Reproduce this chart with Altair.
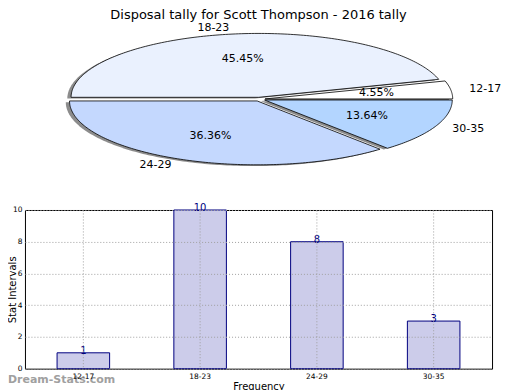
import numpy as np
import pandas as pd
import altair as alt

# ---- data ----
categories = ["12-17", "18-23", "24-29", "30-35"]
counts = [1, 10, 8, 3]
slice_colors = ["#ffffff", "#eaf1fe", "#c4d8fe", "#b3d5ff"]
title_text = "Disposal tally for Scott Thompson - 2016 tally"

# ---- layout constants (pixels) ----
PLOT_W, PLOT_H = 468, 159
PLOT_LEFT, PLOT_TOP = 25, 210          # page coordinates of bar plot area
PIE_CX, PIE_CY = 260, 99               # page coordinates of pie centre
PIE_RX, PIE_RY = 188, 64               # pixels per unit radius
EXPLODE = 0.03
SHADOW = 0.02

# pie scales (unit-circle data -> elliptical pixels)
xa = -(PIE_CX - PLOT_LEFT) / PIE_RX
xb = xa + PLOT_W / PIE_RX
yd = -(PLOT_TOP - PIE_CY) / PIE_RY
yc = yd - PLOT_H / PIE_RY
pie_x = alt.Scale(domain=[xa, xb], nice=False, zero=False)
pie_y = alt.Scale(domain=[yc, yd], nice=False, zero=False)

# ---- pie geometry from counts ----
total = sum(counts)
rows, lab_rows = [], []
t0 = 0.0
for cat, v in zip(categories, counts):
    t1 = t0 + 360.0 * v / total
    mid = np.deg2rad((t0 + t1) / 2)
    ox, oy = EXPLODE * np.cos(mid), EXPLODE * np.sin(mid)
    angs = np.deg2rad(np.linspace(t0, t1, int(abs(t1 - t0)) + 2))
    pts = [(ox, oy)] + [(ox + np.cos(a), oy + np.sin(a)) for a in angs] + [(ox, oy)]
    for k, (px, py) in enumerate(pts):
        rows.append({"slice": cat, "k": k, "x": px, "y": py})
    lx, ly = (1.1 + EXPLODE) * np.cos(mid), (1.1 + EXPLODE) * np.sin(mid)
    qx, qy = (0.6 + EXPLODE) * np.cos(mid), (0.6 + EXPLODE) * np.sin(mid)
    lab_rows.append({"slice": cat, "lx": lx, "ly": ly, "qx": qx, "qy": qy,
                     "side": "left" if lx >= 0 else "right",
                     "pct": f"{100.0 * v / total:.2f}%"})
    t0 = t1
pie_df = pd.DataFrame(rows)
pie_df["sx"] = pie_df["x"] - SHADOW
pie_df["sy"] = pie_df["y"] - SHADOW
lab_df = pd.DataFrame(lab_rows)
bar_df = pd.DataFrame({"category": categories, "count": counts})

FONT = "DejaVu Sans"

shadow = alt.Chart(pie_df).mark_line(
    filled=True, color="#1a1a1a", opacity=0.5, strokeWidth=0
).encode(
    x=alt.X("sx:Q", scale=pie_x, axis=None),
    y=alt.Y("sy:Q", scale=pie_y, axis=None),
    detail="slice:N",
    order="k:Q",
)

pie = alt.Chart(pie_df).mark_line(
    filled=True, stroke="black", strokeWidth=0.8
).encode(
    x=alt.X("x:Q", scale=pie_x, axis=None),
    y=alt.Y("y:Q", scale=pie_y, axis=None),
    color=alt.Color("slice:N", scale=alt.Scale(domain=categories, range=slice_colors), legend=None),
    detail="slice:N",
    order="k:Q",
)

lab_left = alt.Chart(lab_df).transform_filter(alt.datum.side == "left").mark_text(
    align="left", baseline="middle", font=FONT, fontSize=11, color="black"
).encode(
    x=alt.X("lx:Q", scale=pie_x, axis=None),
    y=alt.Y("ly:Q", scale=pie_y, axis=None),
    text="slice:N",
)
lab_right = alt.Chart(lab_df).transform_filter(alt.datum.side == "right").mark_text(
    align="right", baseline="middle", font=FONT, fontSize=11, color="black"
).encode(
    x=alt.X("lx:Q", scale=pie_x, axis=None),
    y=alt.Y("ly:Q", scale=pie_y, axis=None),
    text="slice:N",
)
pct = alt.Chart(lab_df).mark_text(
    align="center", baseline="middle", font=FONT, fontSize=11, color="black"
).encode(
    x=alt.X("qx:Q", scale=pie_x, axis=None),
    y=alt.Y("qy:Q", scale=pie_y, axis=None),
    text="pct:N",
)

grid_kw = dict(grid=True, gridColor="#a0a0a0", gridDash=[1, 2], gridWidth=1,
               domain=False, ticks=False, labelFont=FONT, labelFontSize=7.5,
               labelColor="black", titleFont=FONT, titleFontSize=10,
               titleFontWeight="normal", titleColor="black", zindex=1)

x_bar = alt.X("category:N", sort=categories,
              scale=alt.Scale(domain=categories, paddingInner=0, paddingOuter=0),
              axis=alt.Axis(title="Frequency", labelAngle=0, bandPosition=0.5,
                            labelPadding=4, titlePadding=1, **grid_kw))
y_bar = alt.Y("count:Q", scale=alt.Scale(domain=[0, 10], nice=False),
              axis=alt.Axis(title="Stat Intervals", values=[0, 2, 4, 6, 8, 10],
                            labelPadding=3, titleX=-12, titleY=PLOT_H / 2,
                            titleBaseline="middle", titleAlign="center",
                            titleAngle=270, **grid_kw))

bars = alt.Chart(bar_df).mark_bar(
    width={"band": 0.45}, fill="#ccccea", stroke="#000080", strokeWidth=1
).encode(x=x_bar, y=y_bar)

bar_text = alt.Chart(bar_df).mark_text(
    baseline="bottom", dy=3, font=FONT, fontSize=10, color="#000080"
).encode(
    x=alt.X("category:N", sort=categories,
            scale=alt.Scale(domain=categories, paddingInner=0, paddingOuter=0), axis=None),
    y=alt.Y("count:Q", scale=alt.Scale(domain=[0, 10], nice=False), axis=None),
    text="count:Q",
)

watermark = alt.Chart(pd.DataFrame({"t": ["Dream-Stats.com"]})).mark_text(
    align="left", baseline="middle", font=FONT, fontSize=11, fontWeight="bold",
    color="#a0a0a0"
).encode(x=alt.value(-17), y=alt.value(PLOT_H + 11), text="t:N")

chart = alt.layer(
    shadow, pie, lab_left, lab_right, pct, bars, bar_text, watermark
).resolve_scale(
    x="independent", y="independent"
).properties(
    width=PLOT_W, height=PLOT_H,
    title=alt.Title(title_text, font=FONT, fontSize=13, fontWeight="normal",
                    color="black", anchor="middle", offset=0),
    autosize=alt.AutoSizeParams(type="none"),
    padding={"left": PLOT_LEFT - 8, "top": PLOT_TOP - 8, "right": 20, "bottom": 30},
).configure_view(stroke="black", strokeWidth=1)

chart.save("out.html", embed_options={"renderer": "svg", "actions": False})
